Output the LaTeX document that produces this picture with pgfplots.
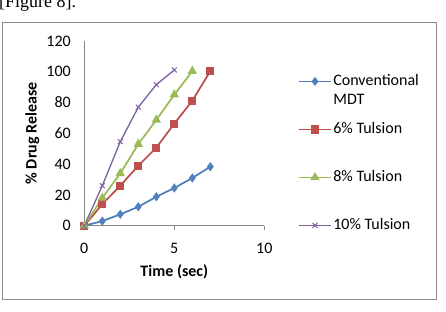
\documentclass[border=0pt]{standalone}
\usepackage{fontspec}
\setmainfont{Carlito}
\newfontfamily\captionserif{Liberation Serif}
\usepackage{pgfplots}
\pgfplotsset{compat=1.18}

\definecolor{convblue}{HTML}{4A7EBB}
\definecolor{convblueM}{HTML}{4F81BD}
\definecolor{tulred}{HTML}{BE4B48}
\definecolor{tulredM}{HTML}{C0504D}
\definecolor{tulgreen}{HTML}{98B954}
\definecolor{tulgreenM}{HTML}{9BBB59}
\definecolor{tulpurple}{HTML}{7D60A0}
\definecolor{tulpurpleM}{HTML}{8064A2}
\definecolor{axisgray}{HTML}{868686}
\definecolor{framegray}{HTML}{8C8C8C}

\begin{document}
\begin{tikzpicture}
\useasboundingbox (0,0) rectangle (446bp,312bp);
% caption line above the chart frame
\node[anchor=base west, inner sep=0, font=\captionserif\fontsize{18bp}{20bp}\selectfont] at (-1bp,304bp) {[Figure 8].};
% chart frame
\draw[framegray, line width=0.8bp] (2bp,13bp) rectangle (436bp,290bp);
\begin{axis}[
  at={(84.3bp,86.3bp)}, anchor=south west,
  scale only axis, width=180bp, height=184.7bp,
  xmin=0, xmax=10, ymin=0, ymax=120,
  xtick={0,5,10}, ytick={0,20,...,120},
  axis x line*=bottom, axis y line*=left,
  axis line style={axisgray, line width=0.8bp, -},
  tick align=outside, major tick length=4bp,
  xtick style={axisgray, line width=0.8bp},
  ytick style={draw=none},
  font=\fontsize{16bp}{19bp}\selectfont,
  /pgf/number format/assume math mode=true,
  xticklabel style={yshift=-10bp},
  yticklabel style={xshift=-6bp},
  xlabel={\textbf{Time (sec)}},
  ylabel={\textbf{\% Drug Release}},
  xlabel style={at={(axis description cs:0.5,0)}, anchor=center, yshift=-46bp},
  ylabel style={at={(axis description cs:0,0.5)}, anchor=center, yshift=52bp},
  legend cell align=left,
  legend style={draw=none, fill=none, at={(axis description cs:1.187,0.82)}, anchor=north west,
    inner sep=0pt, row sep=34bp, column sep=0pt,
    nodes={inner xsep=1.5bp, inner ysep=0pt, text height=11bp, text depth=3bp}},
  legend image code/.code={\draw[mark repeat=2, mark phase=2] plot coordinates {(0bp,0bp) (16bp,0bp) (32bp,0bp)};},
]
\addplot[convblue, line width=1.7bp, mark=diamond*, mark size=3.2bp, mark options={fill=convblueM, draw=convblueM}]
  coordinates {(0,0) (1,3) (2,7.4) (3,12.3) (4,18.8) (5,24.5) (6,31) (7,38.3)};
\addlegendentry{\smash{\begin{tabular}[t]{@{}l@{}}Conventional\\[0.5bp]MDT\end{tabular}}}
\addplot[tulred, line width=1.7bp, mark=square*, mark size=3.3bp, mark options={fill=tulredM, draw=tulredM}]
  coordinates {(0,0) (1,14) (2,26) (3,39) (4,50.7) (5,66.3) (6,81.2) (7,100.4)};
\addlegendentry{6\% Tulsion}
\addplot[tulgreen, line width=1.7bp, mark=triangle*, mark size=3.8bp, mark options={fill=tulgreenM, draw=tulgreenM}]
  coordinates {(0,0) (1,18) (2,34) (3,53) (4,68.7) (5,85.1) (6,100.4)};
\addlegendentry{8\% Tulsion}
\addplot[tulpurple, line width=1.3bp, mark=x, mark size=3.5bp, mark options={draw=tulpurpleM, line width=1bp}]
  coordinates {(0,0) (1,26) (2,54.6) (3,77) (4,91.6) (5,101.2)};
\addlegendentry{10\% Tulsion}
\end{axis}
\end{tikzpicture}
\end{document}
